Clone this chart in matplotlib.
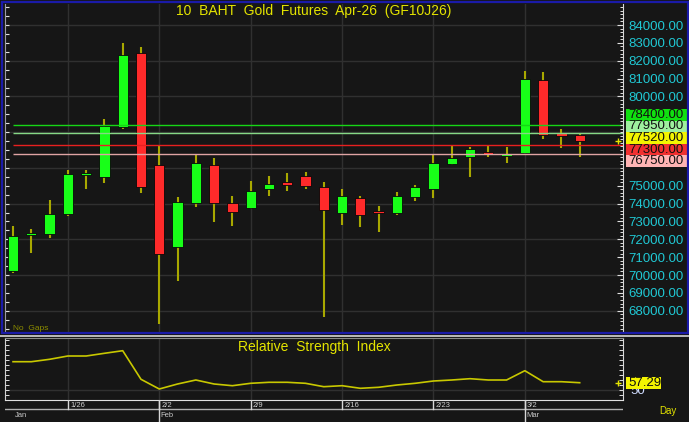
import matplotlib
matplotlib.use("Agg")
import matplotlib.pyplot as plt
import numpy as np
import pandas as pd
from matplotlib.ticker import MultipleLocator, FixedLocator
from matplotlib.patches import Rectangle
from matplotlib.lines import Line2D

plt.rcParams["font.family"] = ["Liberation Sans", "DejaVu Sans"]

# ---- data ----
dates = pd.bdate_range("2026-01-21", "2026-03-05")
opens = [70220, 72240, 72300, 73420, 75600, 75490, 78290, 82430, 76160, 71570,
         74030, 76160, 74030, 73750, 74820, 75210, 75540, 74930, 73470, 74310,
         73580, 73470, 74370, 74820, 76220, 76610, 76890, 76700, 76830, 80920,
         77950, 77840]
highs = [72740, 72580, 74200, 75880, 75880, 78740, 82990, 82770, 77220, 74370,
         76780, 76550, 74420, 75260, 75540, 75710, 75770, 75210, 74820, 74420,
         73860, 74650, 75040, 76780, 77220, 77170, 77280, 77170, 81420, 81370,
         78180, 77950]
lows = [70110, 71230, 72070, 73300, 74820, 75150, 78180, 74590, 67260, 69660,
        73810, 72970, 72740, 73700, 74420, 74700, 74820, 67650, 72800, 72690,
        72410, 73360, 74140, 74310, 76160, 75490, 76610, 76270, 76780, 77620,
        77110, 76610]
closes = [72180, 72300, 73420, 75660, 75680, 78340, 82320, 74930, 71180, 74090,
          76270, 74030, 73530, 74700, 75100, 75040, 74980, 73640, 74420, 73360,
          73470, 74420, 74930, 76270, 76550, 77060, 76780, 76750, 80980, 77840,
          77780, 77520]
rsi = [78.3, 78.3, 80.7, 84.0, 84.0, 86.7, 89.3, 60.7, 51.0, 56.0, 60.0, 56.0,
       54.3, 56.7, 57.7, 57.7, 56.7, 53.3, 54.3, 51.7, 52.7, 55.0, 56.7, 59.0,
       60.0, 61.3, 60.0, 60.0, 69.3, 58.3, 58.3, 57.29]

price_labels = [68000, 69000, 70000, 71000, 72000, 73000, 74000, 75000,
                80000, 81000, 82000, 83000, 84000]
line_levels = [78400, 77950, 77300, 76750]
line_colors = ["#16d616", "#86d886", "#e82020", "#e0a4a4"]
box_levels = [78400, 77950, 77520, 77300, 76750]
box_colors = ["#10e010", "#9ef09e", "#f4f400", "#f03030", "#ffb4b4"]

title = "10  BAHT  Gold  Futures  Apr-26  (GF10J26)"

# ---- style ----
W, H = 689, 422
BG = "#161616"
GRID = "#303030"
YEL = "#e4e400"
CYAN = "#20c8d4"

fig = plt.figure(figsize=(W / 100, H / 100), dpi=100, facecolor=BG)


def px_axes(x0, y0, x1, y1):
    return fig.add_axes([x0 / W, 1 - y1 / H, (x1 - x0) / W, (y1 - y0) / H])


def fig_line(x0, y0, x1, y1, **kw):
    fig.add_artist(Line2D([x0 / W, x1 / W], [1 - y0 / H, 1 - y1 / H],
                          transform=fig.transFigure, **kw))


x = np.arange(len(dates))
n = len(x)
mondays = np.where(dates.dayofweek == 0)[0]
month_starts = [0] + [i for i in range(1, n) if dates[i].month != dates[i - 1].month]
XLIM = (-0.44, 33.37)

# ---- price panel ----
ax = px_axes(5, 4, 623, 332)
ax.set_facecolor(BG)
ax.set_xlim(*XLIM)
ax.set_ylim(66808, 85176)
for lv in range(68000, 85000, 2000):
    ax.axhline(lv, color=GRID, lw=1, zorder=1)
for m in mondays:
    ax.axvline(m, color=GRID, lw=1, zorder=1)

o = np.array(opens, float)
c = np.array(closes, float)
up = c >= o
bottoms = np.minimum(o, c)
heights = np.abs(c - o)
small = heights < 110
bottoms[small] = (o[small] + c[small]) / 2 - 55
heights[small] = 110
ax.vlines(x, lows, highs, color="#a8a800", lw=1.5, zorder=3)
ax.bar(x, heights, bottom=bottoms, width=0.56,
       color=np.where(up, "#18ff18", "#ff2a2a"),
       edgecolor="#080808", linewidth=0.6, zorder=4)
ax.hlines(line_levels, x[0], XLIM[1], colors=line_colors, lw=1, zorder=5)
ax.plot(n + 1.1, closes[-1], marker="+", color=YEL, ms=4, mew=1, clip_on=False, zorder=6)

ax.set_xticks([])
ax.tick_params(axis="y", which="both", direction="in", color="#e0e0e0",
               left=True, right=False, labelleft=False, length=3, width=0.8)
ax.yaxis.set_major_locator(MultipleLocator(500))
for s in ["top", "bottom", "right"]:
    ax.spines[s].set_visible(False)
ax.spines["left"].set_color("#9a9aa8")

axr = ax.twinx()
axr.set_ylim(ax.get_ylim())
axr.yaxis.set_major_locator(FixedLocator(price_labels))
axr.yaxis.set_minor_locator(MultipleLocator(200))
axr.yaxis.set_major_formatter(lambda v, p: f"{v:.2f}")
axr.tick_params(axis="y", which="major", direction="in", length=4, width=0.8,
                color="#e0e0e0", labelcolor=CYAN, labelsize=9.5, pad=4)
axr.tick_params(axis="y", which="minor", direction="in", length=2, width=0.7,
                color="#e0e0e0")
for s in ["top", "bottom", "left"]:
    axr.spines[s].set_visible(False)
axr.spines["right"].set_color("#d8d8d8")

ax.text(0.5, 0.979, title, transform=ax.transAxes, ha="center", va="center",
        color=YEL, fontsize=10, zorder=7)
ax.text(0.013, 0.012, "No  Gaps", transform=ax.transAxes, ha="left", va="center",
        color="#8c8c00", fontsize=6, zorder=7)

# stacked level boxes on the price scale
box_top, box_h = 109, 11.6
for k, (lv, col) in enumerate(zip(box_levels, box_colors)):
    y0 = box_top + k * box_h
    fig.add_artist(Rectangle((626 / W, 1 - (y0 + box_h) / H), 62 / W, box_h / H,
                             transform=fig.transFigure, facecolor=col,
                             edgecolor="none", zorder=10))
    fig.text(628 / W, 1 - (y0 + box_h / 2) / H, f"{lv:.2f}", ha="left", va="center",
             color="#101010", fontsize=9.5, zorder=11)

# ---- RSI panel ----
ar = px_axes(5, 338, 623, 400)
ar.set_facecolor(BG)
ar.set_xlim(*XLIM)
ar.set_ylim(40, 102)
ar.axhline(50, color=GRID, lw=1, zorder=1)
for m in mondays:
    ar.axvline(m, color=GRID, lw=1, zorder=1)
ar.plot(x, rsi, color="#c8c800", lw=1.2, zorder=3)
ar.plot(n + 1.1, rsi[-1], marker="+", color=YEL, ms=4, mew=1, clip_on=False, zorder=6)
ar.text(0.5, 0.855, "Relative  Strength  Index", transform=ar.transAxes,
        ha="center", va="center", color=YEL, fontsize=10)
ar.set_xticks([])
ar.yaxis.set_major_locator(FixedLocator([50]))
ar.yaxis.set_minor_locator(MultipleLocator(5))
ar.yaxis.tick_right()
ar.tick_params(axis="y", which="both", direction="in", color="#e0e0e0",
               length=3, width=0.7, left=True, right=True, labelleft=False,
               labelright=False)
ar.spines["top"].set_color("#8a8a8a")
ar.spines["left"].set_color("#d0d0d0")
ar.spines["right"].set_color("#d8d8d8")
ar.spines["bottom"].set_color("#e0e0e0")

# "50" scale label, partly hidden under the last-value box
fig.text(630 / W, 1 - 391 / H, "50", ha="left", va="center", color="#d0dcff",
         fontsize=9.5, zorder=9)
fig.add_artist(Rectangle((626 / W, 1 - 389 / H), 35 / W, 12 / H,
                         transform=fig.transFigure, facecolor="#f4f400",
                         edgecolor="none", zorder=10))
fig.text(628 / W, 1 - 383 / H, f"{rsi[-1]:.2f}", ha="left", va="center",
         color="#101010", fontsize=9.5, zorder=11)

# ---- date axis ----
ad = px_axes(5, 400, 623, 422)
ad.set_facecolor(BG)
ad.set_xlim(*XLIM)
ad.set_ylim(0, 1)
ad.axis("off")
row = (422 - 409) / 22
ad.axhline(row, color="#b0b0b0", lw=1)
for m in mondays:
    ad.plot([m, m], [row, 1], color="#d8d8d8", lw=1)
    ad.text(m + 0.12, 0.76, f"{dates[m].month}/{dates[m].day}", ha="left",
            va="center", color="#d0d0d0", fontsize=5.5)
for m in month_starts:
    if m > 0:
        ad.plot([m, m], [0, 1], color="#d8d8d8", lw=1)
    ad.text(m + 0.08, 0.3, dates[m].strftime("%b"), ha="left", va="center",
            color="#c8c8c8", fontsize=5.5)

fig.text(668 / W, 1 - 411 / H, "Day", ha="center", va="center", color=YEL,
         fontsize=7)

# ---- frames ----
fig.add_artist(Rectangle((1.5 / W, 1 - 333 / H), 686 / W, 331 / H,
                         transform=fig.transFigure, facecolor="none",
                         edgecolor="#1a1aa8", lw=1.6, zorder=12))
fig_line(0, 335.5, W, 335.5, color="#c8c8c8", lw=1.3, zorder=12)

fig.savefig("out.png", dpi=100, facecolor=BG)
